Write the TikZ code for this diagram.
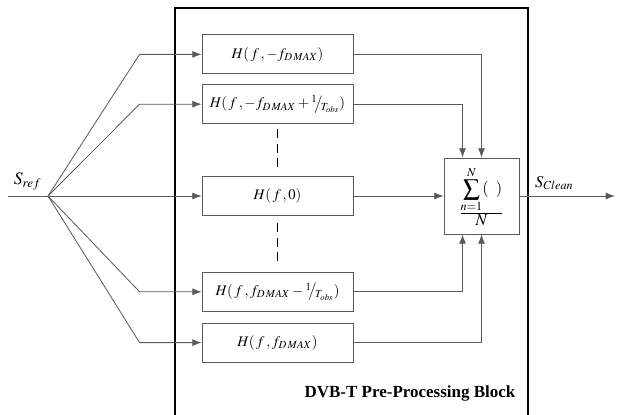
\documentclass[tikz,border=0pt]{standalone}
\usepackage{mathptmx}
\usepackage{fontspec}
\setmainfont{Liberation Serif}
\usepackage{tikz}
\usetikzlibrary{shapes,arrows.meta,positioning,calc}
\definecolor{linegray}{RGB}{90,90,90}

\newcommand{\slfrac}[2]{{}^{#1}\!\!\big/\!{}_{#2}}

\begin{document}
\begin{tikzpicture}[font=\fontsize{12.5}{15}\selectfont, node distance=0.3cm, >={Latex[length=2.8mm,width=2.1mm]}]
        \useasboundingbox (0,0) rectangle (18.51,-12.45);
        % outer block, open at the bottom
        \draw[line width=1.2pt] (5.25,-12.45) |- (15.84,-0.24) -- (15.84,-12.45);

        \node[rectangle, draw=linegray, line width=0.7pt, minimum width=4.53cm, minimum height=1.17cm] (h0) at (8.325,-5.88) {$H(\,f\,,0)$};
        \node[rectangle, draw=linegray, line width=0.7pt, minimum width=4.53cm, minimum height=1.17cm, above=1.56cm of h0] (h2) {$H(\,f\,,-f_{D\,MAX}+\slfrac{1}{T_{obs}})$};
        \node[rectangle, draw=linegray, line width=0.7pt, minimum width=4.53cm, minimum height=1.17cm, above=0.3cm of h2] (h1) {$H(\,f\,,-f_{D\,MAX})$};
        \node[rectangle, draw=linegray, line width=0.7pt, minimum width=4.53cm, minimum height=1.17cm, below=1.68cm of h0] (h4) {$H(\,f\,,f_{D\,MAX}-\slfrac{1}{T_{obs}})$};
        \node[rectangle, draw=linegray, line width=0.7pt, minimum width=4.53cm, minimum height=1.17cm, below=0.33cm of h4] (h5) {$H(\,f\,,f_{D\,MAX})$};

        \node[rectangle, draw=linegray, line width=0.7pt, minimum width=2.25cm, minimum height=2.28cm, font=\fontsize{14}{17}\selectfont] (sum) at (14.445,-5.88) {$\frac{\displaystyle\sum_{n=1}^{N}(\;\;)}{\displaystyle N}$};
        \coordinate (sumtl) at ($(sum.north west)!0.25!(sum.north east)$);
        \coordinate (sumbl) at ($(sum.south west)!0.25!(sum.south east)$);

        \coordinate (in) at (0.24,-5.88);
        \coordinate (split) at (1.44,-5.88);
        \coordinate (out) at (18.45,-5.88);
        \node[above right=0.05cm and 0.05cm of in, font=\fontsize{15}{18}\selectfont] (sref) {$S_{ref}$};
        \node[above right=0.05cm and 0.35cm of sum.east, font=\fontsize{14}{17}\selectfont] (sclean) {$S_{Clean}$};
        \node[font=\fontsize{14.5}{17}\selectfont\bfseries] (title) at (12.3,-11.79) {DVB-T Pre-Processing Block};

        \draw[line width=1.4pt, dash pattern=on 0.27cm off 0.17cm, shorten <=0.15cm, shorten >=0.27cm] (h2.south) -- (h0.north);
        \draw[line width=1.4pt, dash pattern=on 0.27cm off 0.17cm, shorten <=0.21cm, shorten >=0.27cm] (h0.south) -- (h4.north);

        \draw[->, linegray, line width=0.7pt] (in) -- (h0.west);
        \foreach \b in {h1,h2,h4,h5}
          \draw[->, linegray, line width=0.7pt] (split) -- ([xshift=-1.86cm]\b.west) -- (\b.west);
        \draw[->, linegray, line width=0.7pt] (h0.east) -- (sum.west);
        \draw[->, linegray, line width=0.7pt] (h1.east) -| (sum.north);
        \draw[->, linegray, line width=0.7pt] (h2.east) -| (sumtl);
        \draw[->, linegray, line width=0.7pt] (h4.east) -| (sumbl);
        \draw[->, linegray, line width=0.7pt] (h5.east) -| (sum.south);
        \draw[->, linegray, line width=0.7pt] (sum.east) -- (out);
      \end{tikzpicture}
\end{document}
